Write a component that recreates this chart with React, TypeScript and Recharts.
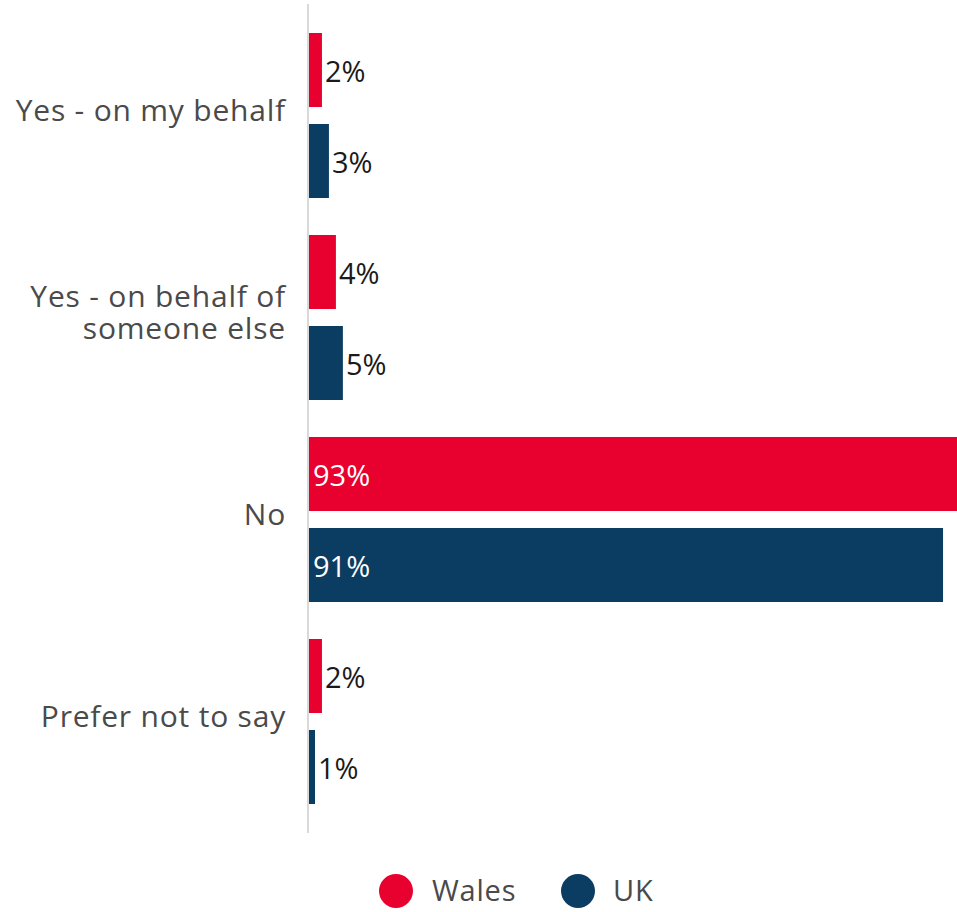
import React from 'react';
import { BarChart, Bar, XAxis, YAxis, Legend, LabelList } from 'recharts';

const categories = ['Yes - on my behalf', 'Yes - on behalf of someone else', 'No', 'Prefer not to say'];
const walesValues = [2, 4, 93, 2];
const ukValues = [3, 5, 91, 1];

const WALES = '#E8002F';
const UK = '#0B3C61';
const FONT = '"Open Sans", Lato, sans-serif';

const data = categories.map((name, i) => ({ name, wales: walesValues[i], uk: ukValues[i] }));

function wrap(text: string, maxChars: number) {
  const words = text.split(' ');
  const lines: string[] = [];
  let cur = '';
  for (const w of words) {
    const next = cur ? cur + ' ' + w : w;
    if (next.length > maxChars && cur) {
      lines.push(cur);
      cur = w;
    } else {
      cur = next;
    }
  }
  if (cur) lines.push(cur);
  return lines;
}

const CategoryTick = (props: any) => {
  const { x, y, payload } = props;
  const lines = wrap(payload.value, 18);
  const lh = 32;
  const start = y - 6 - ((lines.length - 1) * lh) / 2;
  return (
    <g>
      {lines.map((l, i) => (
        <text
          key={i}
          x={x - 14}
          y={start + i * lh}
          textAnchor="end"
          dominantBaseline="central"
          fill="#4a4a4a"
          fontSize={30}
          letterSpacing={0.8}
          fontFamily={FONT}
        >
          {l}
        </text>
      ))}
    </g>
  );
};

const ValueLabel = (props: any) => {
  const { x, y, width, height, value } = props;
  const inside = value > 50;
  return (
    <text
      x={inside ? x + 5 : x + width + 3}
      y={y + height / 2}
      textAnchor="start"
      dominantBaseline="central"
      fill={inside ? '#ffffff' : '#1a1a1a'}
      fontSize={29}
      fontFamily={FONT}
    >
      {value}%
    </text>
  );
};

const LegendContent = () => (
  <svg width={957} height={79}>
    <circle cx={396} cy={58} r={17} fill={WALES} />
    <text x={432} y={56} dominantBaseline="central" fontSize={29} letterSpacing={0.8} fontFamily={FONT} fill="#4a4a4a">
      Wales
    </text>
    <circle cx={578} cy={58} r={17} fill={UK} />
    <text x={613} y={56} dominantBaseline="central" fontSize={29} letterSpacing={0.8} fontFamily={FONT} fill="#4a4a4a">
      UK
    </text>
  </svg>
);

export default function App() {
  return (
    <div style={{ position: 'absolute', left: 0, top: 0 }}>
      <BarChart
        width={957}
        height={912}
        data={data}
        layout="vertical"
        margin={{ top: 4, right: 0, left: 0, bottom: 0 }}
        barCategoryGap={19}
        barGap={17}
      >
        <XAxis type="number" domain={[0, 93]} hide />
        <YAxis
          type="category"
          dataKey="name"
          width={308}
          axisLine={{ stroke: '#d9d9d9', strokeWidth: 2 }}
          tickLine={false}
          tick={<CategoryTick />}
          padding={{ top: 10, bottom: 11 }}
          interval={0}
        />
        <Legend
          verticalAlign="bottom"
          content={<LegendContent />}
          wrapperStyle={{ left: 0, width: 957, height: 79 }}
        />
        <Bar dataKey="wales" name="Wales" fill={WALES} isAnimationActive={false}>
          <LabelList dataKey="wales" content={<ValueLabel />} />
        </Bar>
        <Bar dataKey="uk" name="UK" fill={UK} isAnimationActive={false}>
          <LabelList dataKey="uk" content={<ValueLabel />} />
        </Bar>
      </BarChart>
    </div>
  );
}
